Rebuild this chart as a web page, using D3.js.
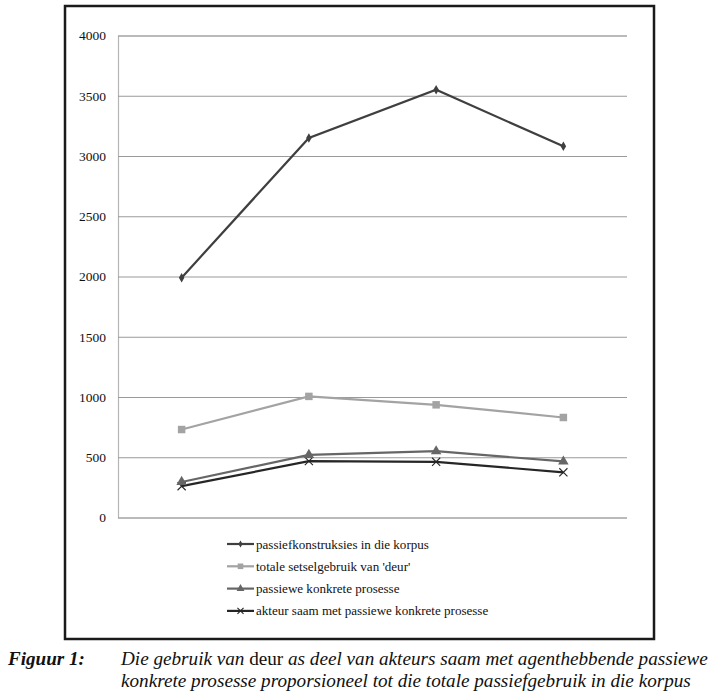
<!DOCTYPE html>
<html>
<head>
<meta charset="utf-8">
<script src="https://cdn.jsdelivr.net/npm/d3@7"></script>
<style>
  body { margin: 0; background: #fff; }
  svg { display: block; }
</style>
</head>
<body>
<div id="chart"></div>
<script>
// Data
const categories = ["1", "2", "3", "4"];
const seriesNames = [
    "passiefkonstruksies in die korpus",
    "totale setselgebruik van 'deur'",
    "passiewe konkrete prosesse",
    "akteur saam met passiewe konkrete prosesse"
];
const passiefValues = [1990, 3150, 3550, 3080];
const setselValues = [730, 1005, 935, 830];
const konkreteValues = [295, 520, 550, 465];
const akteurValues = [260, 468, 462, 375];
const yTicks = [0, 500, 1000, 1500, 2000, 2500, 3000, 3500, 4000];

const series = [
    { name: seriesNames[0], values: passiefValues, color: "#3f3f3f", marker: "diamond" },
    { name: seriesNames[1], values: setselValues, color: "#a3a3a3", marker: "square" },
    { name: seriesNames[2], values: konkreteValues, color: "#666666", marker: "triangle" },
    { name: seriesNames[3], values: akteurValues, color: "#262626", marker: "cross" }
];

// pick a serif face that is really installed (falls back to sans)
function pickFont(candidates) {
    const ctx = document.createElement("canvas").getContext("2d");
    const probe = "mmmmmmmmmmlli WWW 0123";
    ctx.font = "40px monospace";
    const base = ctx.measureText(probe).width;
    for (const f of candidates) {
        ctx.font = `40px "${f}", monospace`;
        if (Math.abs(ctx.measureText(probe).width - base) > 0.5) return `"${f}"`;
    }
    return "sans-serif";
}
const serif = pickFont(["Liberation Serif", "DejaVu Serif", "Noto Serif", "Times New Roman",
    "Tinos", "FreeSerif", "Nimbus Roman", "Noto Serif CJK SC", "Georgia"]);

const width = 715, height = 697;
const svg = d3.select("#chart").append("svg")
    .attr("width", width)
    .attr("height", height)
    .style("font-family", serif);

// fit a text node to the width it has in the figure
function fitWidth(sel, size, target) {
    sel.style("font-size", size + "px");
    const w = sel.node().getComputedTextLength();
    sel.style("font-size", (size * target / w) + "px");
}

// frame round the chart
svg.append("rect")
    .attr("x", 65).attr("y", 6)
    .attr("width", 589).attr("height", 633)
    .attr("fill", "none")
    .attr("stroke", "#1a1a1a")
    .attr("stroke-width", 2.5);

const plot = { left: 118, right: 627, top: 35.5, bottom: 517.5 };

const x = d3.scalePoint()
    .domain(categories)
    .range([plot.left, plot.right])
    .padding(0.5);

const y = d3.scaleLinear()
    .domain([0, 4000])
    .range([plot.bottom, plot.top]);

// gridlines + labels
const yAxis = d3.axisLeft(y)
    .tickValues(yTicks)
    .tickSize(-(plot.right - plot.left))
    .tickPadding(12)
    .tickFormat(d3.format("d"));

const gy = svg.append("g")
    .attr("transform", `translate(${plot.left},0)`)
    .call(yAxis);
gy.attr("font-family", null).attr("font-size", null);
gy.select(".domain").attr("stroke", "#b5b5b5").attr("stroke-width", 1.2);
gy.selectAll(".tick line").attr("stroke", "#9a9a9a").attr("stroke-width", 1.2);
gy.selectAll(".tick text")
    .style("font-size", "13.5px")
    .attr("fill", "#111");

const symbols = {
    diamond: d3.symbol().type(d3.symbolDiamond).size(26),
    square: d3.symbol().type(d3.symbolSquare).size(56),
    triangle: d3.symbol().type(d3.symbolTriangle).size(48),
    cross: d3.symbol().type(d3.symbolTimes).size(45)
};

const line = d3.line()
    .x((d, i) => x(categories[i]))
    .y(d => y(d));

function drawMarker(g, s, cx, cy, k) {
    const p = g.append("path")
        .attr("d", symbols[s.marker]())
        .attr("transform", `translate(${cx},${cy}) scale(${k})`);
    if (s.marker === "cross") {
        p.attr("fill", "none").attr("stroke", s.color).attr("stroke-width", 1.1 / k);
    } else {
        p.attr("fill", s.color);
    }
}

// draw in reverse so the upper series sits on top like in the picture
series.slice().reverse().forEach(s => {
    const g = svg.append("g");
    g.append("path")
        .datum(s.values)
        .attr("d", line)
        .attr("fill", "none")
        .attr("stroke", s.color)
        .attr("stroke-width", 2.2);
    s.values.forEach((v, i) => drawMarker(g, s, x(categories[i]), y(v), 1));
});

// legend
const legend = svg.append("g").attr("transform", "translate(227,544)");
series.forEach((s, i) => {
    const row = legend.append("g").attr("transform", `translate(0,${i * 22.3})`);
    row.append("line")
        .attr("x1", 0).attr("x2", 27)
        .attr("stroke", s.color)
        .attr("stroke-width", 2.2);
    drawMarker(row, s, 13.5, 0, 0.75);
    row.append("text")
        .attr("x", 29)
        .attr("dy", "0.35em")
        .style("font-size", "13px")
        .attr("fill", "#111")
        .text(s.name);
});
// legend text spans about 173px for the first row in the figure
const lt = legend.select("text").node().getComputedTextLength();
legend.selectAll("text").style("font-size", (13 * 173 / lt) + "px");

// caption
const cap = svg.append("g")
    .attr("fill", "#111");
const fig = cap.append("text")
    .attr("x", 8).attr("y", 665)
    .style("font-style", "italic")
    .style("font-weight", "bold")
    .text("Figuur 1:");
fitWidth(fig, 17, 77);

const l1 = cap.append("text").attr("x", 121).attr("y", 665)
    .style("font-style", "italic");
l1.append("tspan").text("Die gebruik van ");
l1.append("tspan").style("font-style", "normal").text("deur");
l1.append("tspan").text(" as deel van akteurs saam met agenthebbende passiewe");
const l2 = cap.append("text")
    .attr("x", 121).attr("y", 687)
    .style("font-style", "italic")
    .text("konkrete prosesse proporsioneel tot die totale passiefgebruik in die korpus");

fitWidth(l1, 17, 587);
l2.style("font-size", l1.style("font-size"));
</script>
</body>
</html>
